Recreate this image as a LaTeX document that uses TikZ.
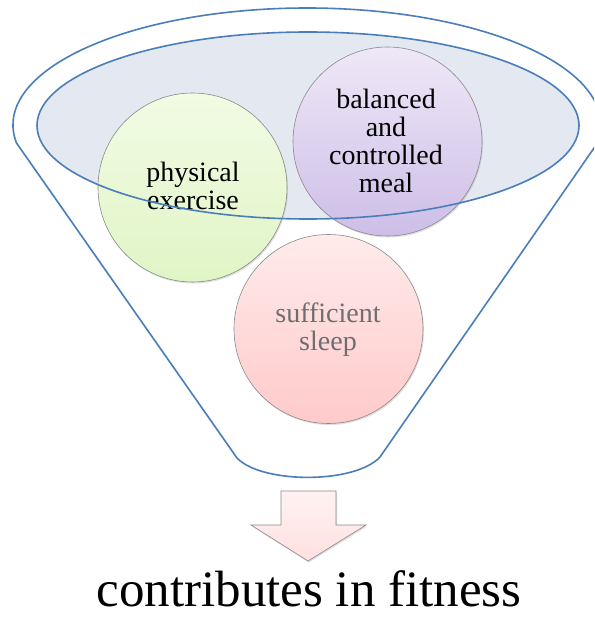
\documentclass[tikz,border=0pt]{standalone}
\usepackage{fontspec}
\setmainfont{Liberation Serif}
\usetikzlibrary{shadows}
\definecolor{funnelblue}{HTML}{4A7EBB}
\definecolor{bowlfill}{HTML}{E3E8F1}
\definecolor{circborder}{HTML}{8A8A8A}
\definecolor{greentop}{HTML}{F2FBE4}
\definecolor{greenbot}{HTML}{E0F5C6}
\definecolor{purptop}{HTML}{EFE8F7}
\definecolor{purpbot}{HTML}{CDBEE7}
\definecolor{pinktop}{HTML}{FFEBEB}
\definecolor{pinkbot}{HTML}{FFCACA}
\definecolor{arrowtop}{HTML}{FFF2F2}
\definecolor{arrowbot}{HTML}{FFE0E0}
\definecolor{sleeptext}{HTML}{6E6E6E}
\tikzset{
  funnelline/.style={draw=funnelblue, line width=1.6pt},
  ball/.style={circle, minimum size=189pt, inner sep=0pt, draw=circborder, line width=0.6pt,
    drop shadow={opacity=0.25, shadow xshift=1pt, shadow yshift=-1.5pt}},
  balltext/.style={align=center, font=\fontsize{28}{28}\selectfont, inner sep=0pt},
}
\begin{document}
\begin{tikzpicture}[x=1pt,y=-1pt]
\useasboundingbox (0,0) rectangle (594,628);
\clip (0,0) rectangle (594,628);
\fill[white] (0,0) rectangle (594,628);
% funnel outline
\coordinate (oc) at (307,125);
\coordinate (lc) at (16.5,143);
\coordinate (br) at (380,457);
\coordinate (bl) at (237,458);
\draw[funnelline, fill=white] (lc) arc[start angle=171.15, end angle=368.85, x radius=294, y radius=117]
  -- (br) .. controls (355,484) and (262,484) .. (bl) -- cycle;
% inner bowl
\coordinate (ic) at (308,125.5);
\fill[bowlfill] (ic) ellipse[x radius=271, y radius=93.5];
% circles
\node[ball, top color=greentop, bottom color=greenbot] (pe) at (192.5,187.5) {};
\node[ball, top color=purptop, bottom color=purpbot] (bm) at (387.5,141.5) {};
\node[ball, top color=pinktop, bottom color=pinkbot] (ss) at (328.5,329) {};
\node[balltext] (pet) at (193,186) {physical\\exercise};
\node[balltext] (bmt) at (386,141) {balanced\\and\\controlled\\meal};
\node[balltext, text=sleeptext] (sst) at (328,330) {sufficient\\sleep};
% bowl rim on top
\draw[funnelline] (ic) ellipse[x radius=271, y radius=93.5];
% arrow
\draw[draw=circborder, line width=0.6pt, top color=arrowtop, bottom color=arrowbot,
  drop shadow={opacity=0.25, shadow xshift=1pt, shadow yshift=-1.5pt}]
  (281,491) -- (336,491) -- (336,525) -- (366,525) -- (308,561) -- (251,525) -- (281,525) -- cycle;
\node[anchor=base, font=\fontsize{51}{60}\selectfont, inner sep=0pt] (res) at (309,606) {contributes in fitness};
\end{tikzpicture}
\end{document}
